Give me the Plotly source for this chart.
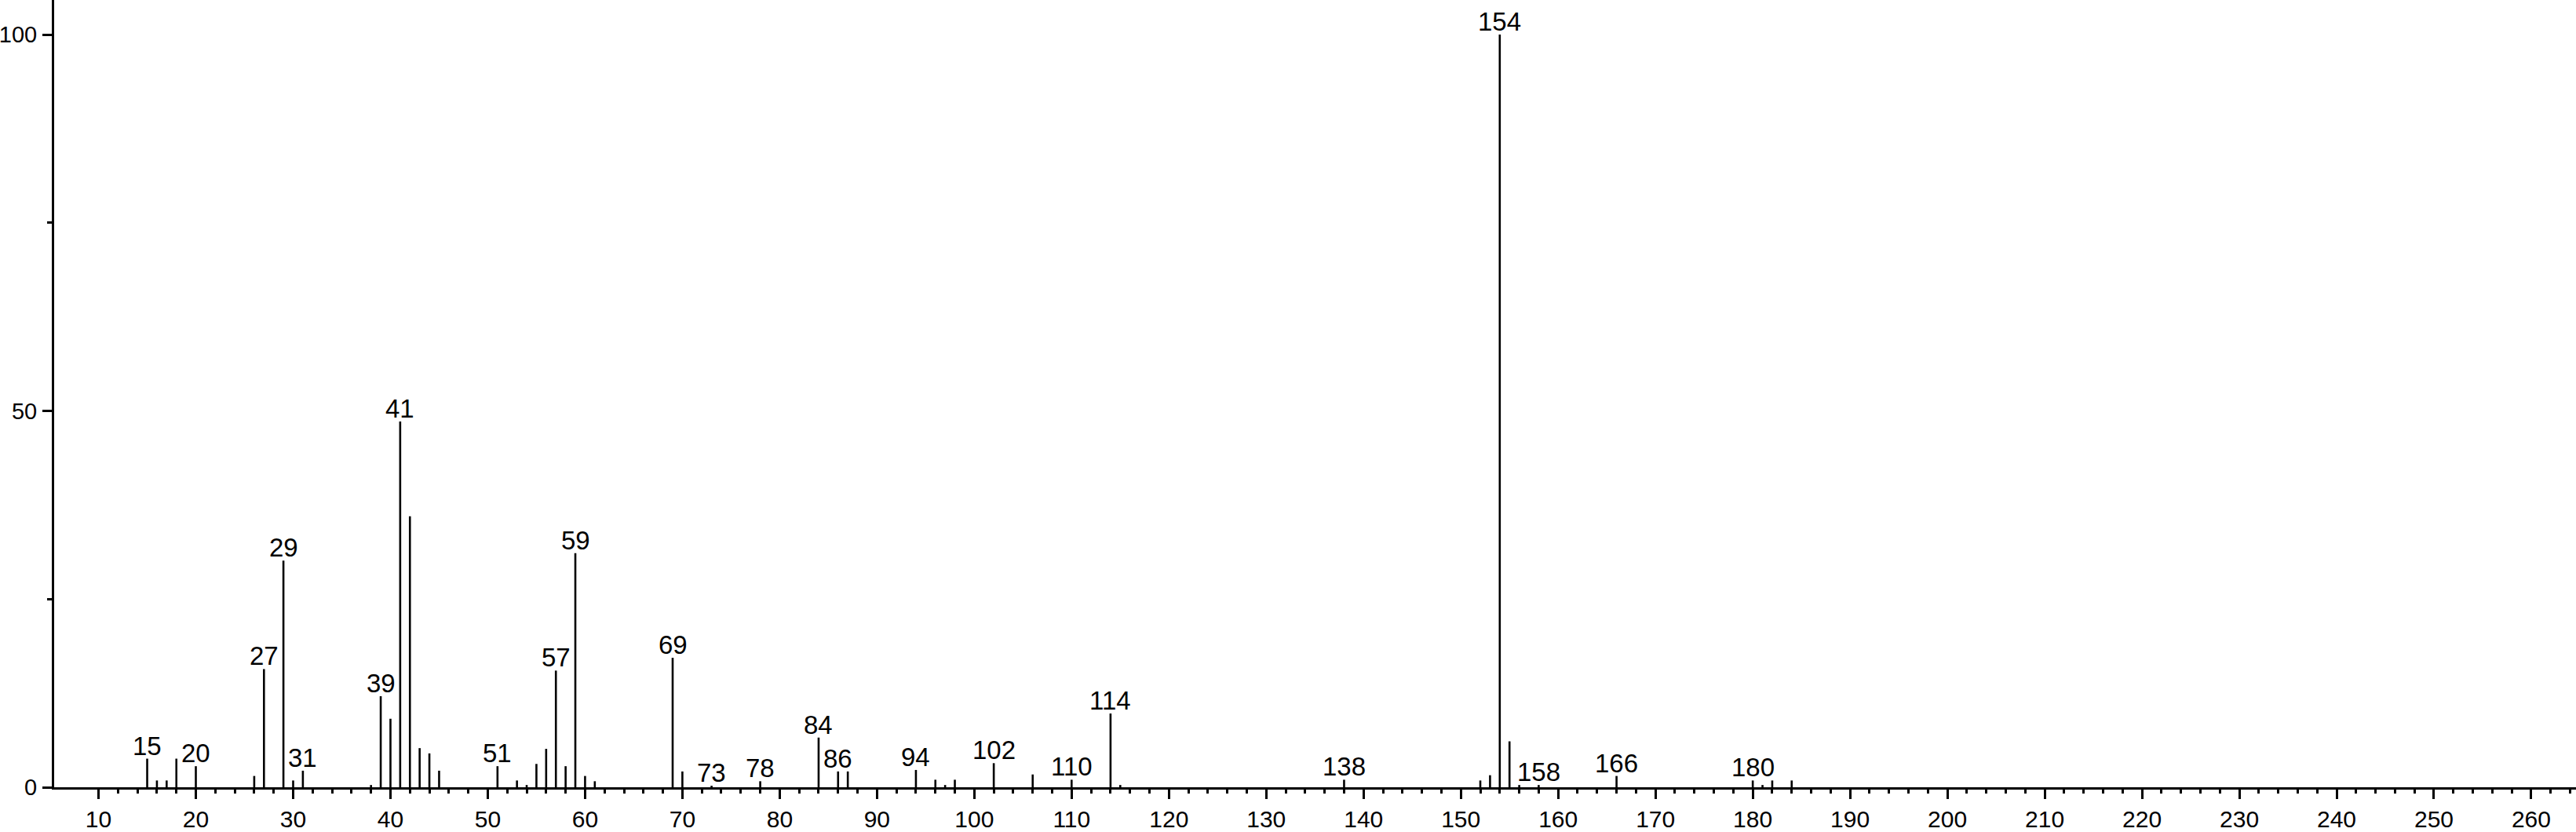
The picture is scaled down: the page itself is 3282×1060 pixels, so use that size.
import plotly.graph_objects as go

# m/z values and relative intensities (%)
mz = [15, 16, 17, 18, 20, 26, 27, 29, 30, 31, 38, 39, 40, 41, 42, 43, 44, 45,
      51, 53, 54, 55, 56, 57, 58, 59, 60, 61, 69, 70, 73, 78, 84, 86, 87,
      94, 96, 97, 98, 102, 106, 110, 114, 115, 138, 152, 153, 154, 155, 156,
      158, 166, 180, 181, 182, 184]
intensity = [3.8, 0.9, 0.9, 3.8, 2.8, 1.5, 15.7, 30.1, 0.9, 2.2, 0.3, 12.1, 9.1,
             48.6, 36.0, 5.2, 4.5, 2.2, 2.8, 0.9, 0.3, 3.1, 5.1, 15.5, 2.8, 31.1,
             1.5, 0.8, 17.2, 2.1, 0.2, 0.8, 6.6, 2.1, 2.1, 2.3, 1.0, 0.3, 1.0,
             3.2, 1.7, 1.0, 9.8, 0.3, 1.0, 0.9, 1.6, 100.0, 6.1, 0.3, 0.3, 1.5,
             0.9, 0.3, 0.9, 0.9]
labeled_mz = [15, 20, 27, 29, 31, 39, 41, 51, 57, 59, 69, 73, 78, 84, 86, 94,
              102, 110, 114, 138, 154, 158, 166, 180]

x_major_ticks = list(range(10, 261, 10))
x_minor_ticks = [v for v in range(12, 265, 2) if v % 10 != 0]
y_major_ticks = [0, 50, 100]
y_minor_ticks = [25, 75]

FONT = "Liberation Sans, Arial, Helvetica, sans-serif"

xs, ys = [], []
for m, h in zip(mz, intensity):
    xs += [m, m, None]
    ys += [0, h, None]

fig = go.Figure()
fig.add_trace(go.Scatter(x=xs, y=ys, mode="lines",
                         line=dict(color="black", width=2.6),
                         hoverinfo="skip", showlegend=False))

lookup = dict(zip(mz, intensity))
for m in labeled_mz:
    fig.add_annotation(x=m, y=lookup[m], text=str(m), showarrow=False,
                       yanchor="bottom", xanchor="center", yshift=-4,
                       font=dict(family=FONT, size=33, color="black"))

fig.update_layout(
    width=3282, height=1060,
    margin=dict(l=69, r=0, t=0, b=57, autoexpand=False),
    paper_bgcolor="white", plot_bgcolor="white",
    font=dict(family=FONT, color="black"),
    showlegend=False,
)
fig.update_xaxes(
    range=[5.44, 264.6], showgrid=False, zeroline=False, automargin=False,
    showline=True, linecolor="black", linewidth=3,
    tickmode="array", tickvals=x_major_ticks,
    ticks="outside", ticklen=12, tickwidth=3, tickcolor="black",
    ticklabelstandoff=0,
    tickfont=dict(family=FONT, size=30, color="black"),
    minor=dict(tickmode="array", tickvals=x_minor_ticks, ticks="outside",
               ticklen=5, tickwidth=3, tickcolor="black", showgrid=False),
)
fig.update_yaxes(
    range=[0, 104.6], showgrid=False, zeroline=False, automargin=False,
    showline=True, linecolor="black", linewidth=3,
    tickmode="array", tickvals=y_major_ticks,
    ticks="outside", ticklen=12, tickwidth=3, tickcolor="black",
    ticklabelstandoff=1,
    tickfont=dict(family=FONT, size=29, color="black"),
    minor=dict(tickmode="array", tickvals=y_minor_ticks, ticks="outside",
               ticklen=6, tickwidth=3, tickcolor="black", showgrid=False),
)

# remove the default 8px page margin so the figure fills the window exactly
fig.write_html("out.html",
               config={"displayModeBar": False},
               post_script="document.body.style.margin='0';"
                           "document.documentElement.style.overflow='hidden';")
